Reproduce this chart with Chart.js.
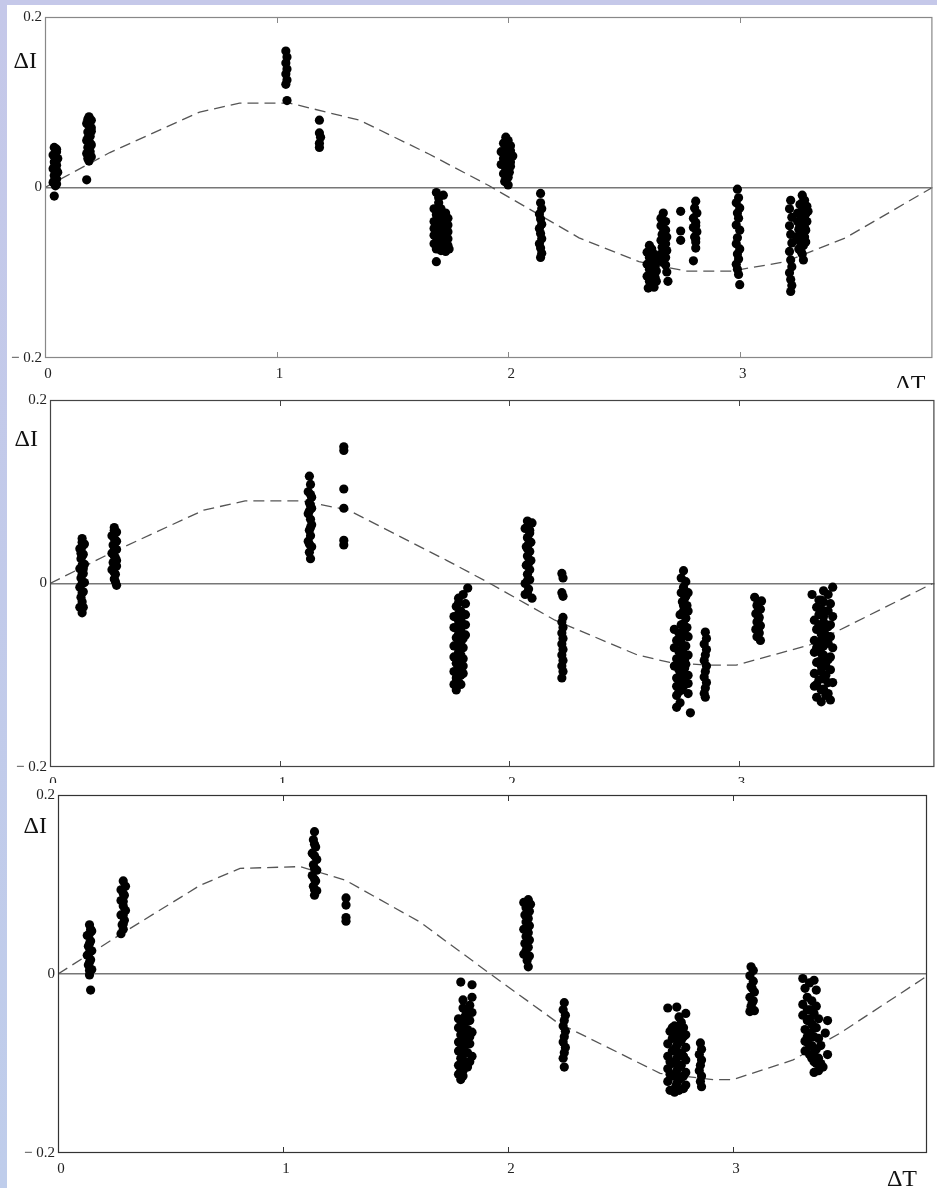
<!DOCTYPE html>
<html>
<head>
<meta charset="utf-8">
<script src="https://cdn.jsdelivr.net/npm/chart.js@4/dist/chart.umd.min.js"></script>
<style>
  html, body { margin: 0; padding: 0; }
  body {
    width: 937px; height: 1188px; overflow: hidden; position: relative;
    background: linear-gradient(#c5c8e9, #bfcdeb);
  }
  canvas { position: absolute; background: #fff; }
  #c1 { left: 7px; top: 5px; }
  #c2 { left: 7px; top: 388px; }
  #c3 { left: 7px; top: 783px; }
</style>
</head>
<body>
<canvas id="c1" width="930" height="383"></canvas>
<canvas id="c2" width="932" height="395"></canvas>
<canvas id="c3" width="930" height="405"></canvas>
<script>
// axis ticks shared by all three panels
const xTickValues = [0, 1, 2, 3];
const yTickValues = [-0.2, 0, 0.2];
const xMax = [3.832, 3.853, 3.862];

// ---- panel 1 ----
const dots1 = [
  [0.04,0.047],[0.05,0.042],[0.035,0.038],[0.055,0.034],[0.04,0.030],[0.05,0.026],[0.035,0.022],[0.055,0.018],[0.04,0.014],[0.05,0.010],[0.035,0.006],[0.045,0.002],[0.04,-0.010],
  [0.05,0.045],[0.045,0.036],[0.05,0.032],[0.045,0.028],[0.04,0.024],[0.05,0.020],[0.045,0.016],[0.04,0.008],[0.05,0.004],
  [0.19,0.083],[0.2,0.079],[0.18,0.075],[0.2,0.07],[0.185,0.065],[0.195,0.06],[0.18,0.055],[0.2,0.05],[0.19,0.045],[0.18,0.04],[0.2,0.036],[0.19,0.031],[0.18,0.009],
  [0.185,0.08],[0.19,0.072],[0.2,0.066],[0.185,0.058],[0.195,0.052],[0.185,0.047],[0.195,0.042],[0.185,0.034],
  [1.04,0.160],[1.045,0.153],[1.04,0.146],[1.045,0.139],[1.04,0.133],[1.045,0.126],[1.04,0.121],[1.045,0.102],
  [1.185,0.079],[1.185,0.064],[1.19,0.059],[1.185,0.052],[1.185,0.047],
  [1.69,-0.006],[1.72,-0.009],[1.70,-0.018],[1.68,-0.025],[1.71,-0.025],[1.69,-0.032],[1.72,-0.034],[1.74,-0.036],[1.68,-0.040],[1.71,-0.042],[1.74,-0.044],[1.69,-0.048],[1.72,-0.050],[1.74,-0.052],[1.68,-0.056],[1.71,-0.058],[1.74,-0.060],[1.69,-0.064],[1.72,-0.066],[1.74,-0.068],[1.69,-0.072],[1.71,-0.074],[1.73,-0.075],[1.69,-0.087],
  [1.70,-0.012],[1.70,-0.028],[1.73,-0.030],[1.70,-0.038],[1.73,-0.040],[1.70,-0.045],[1.73,-0.047],[1.70,-0.054],[1.73,-0.055],[1.70,-0.061],[1.73,-0.062],[1.70,-0.068],[1.72,-0.070],[1.68,-0.066],[1.68,-0.048],[1.745,-0.072],
  [1.99,0.059],[2.0,0.055],[1.98,0.052],[2.01,0.049],[1.99,0.045],[1.97,0.042],[2.0,0.040],[2.02,0.037],[1.98,0.034],[2.0,0.031],[1.97,0.027],[2.01,0.025],[1.99,0.021],[1.98,0.016],[2.0,0.012],[1.985,0.007],[2.0,0.003],
  [1.99,0.05],[2.01,0.043],[1.99,0.036],[1.99,0.028],[2.005,0.018],[1.99,0.010],[2.01,0.030],
  [2.14,-0.007],[2.14,-0.018],[2.145,-0.025],[2.135,-0.031],[2.14,-0.037],[2.145,-0.043],[2.135,-0.048],[2.14,-0.054],[2.145,-0.060],[2.135,-0.066],[2.14,-0.071],[2.145,-0.077],[2.14,-0.082],
  [2.67,-0.030],[2.66,-0.036],[2.68,-0.040],[2.66,-0.045],[2.68,-0.050],[2.665,-0.055],[2.685,-0.058],[2.66,-0.062],[2.68,-0.066],[2.665,-0.070],[2.685,-0.074],[2.66,-0.078],[2.68,-0.082],[2.665,-0.087],[2.68,-0.091],[2.685,-0.099],[2.69,-0.110],
  [2.67,-0.048],[2.67,-0.064],[2.67,-0.080],[2.67,-0.060],[2.675,-0.072],
  [2.61,-0.068],[2.62,-0.072],[2.6,-0.076],[2.63,-0.078],[2.61,-0.082],[2.625,-0.086],[2.6,-0.090],[2.635,-0.092],[2.61,-0.096],[2.625,-0.100],[2.6,-0.104],[2.635,-0.106],[2.61,-0.110],[2.625,-0.114],[2.605,-0.118],[2.63,-0.117],
  [2.615,-0.074],[2.615,-0.088],[2.62,-0.094],[2.615,-0.102],[2.62,-0.108],[2.64,-0.098],[2.64,-0.085],[2.64,-0.110],
  [2.745,-0.028],[2.745,-0.051],[2.745,-0.062],
  [2.81,-0.016],[2.805,-0.024],[2.815,-0.030],[2.80,-0.036],[2.81,-0.041],[2.80,-0.047],[2.815,-0.052],[2.805,-0.058],[2.81,-0.064],[2.81,-0.071],[2.80,-0.086],[2.81,-0.045],[2.81,-0.060],
  [2.99,-0.002],[2.995,-0.012],[2.985,-0.018],[3.0,-0.024],[2.99,-0.030],[2.995,-0.036],[2.985,-0.044],[3.0,-0.050],[2.99,-0.059],[2.985,-0.066],[3.0,-0.072],[2.99,-0.078],[2.995,-0.084],[2.985,-0.090],[2.99,-0.096],[2.995,-0.102],[3.0,-0.114],
  [3.22,-0.015],[3.215,-0.025],[3.225,-0.035],[3.215,-0.045],[3.22,-0.055],[3.225,-0.065],[3.215,-0.075],[3.22,-0.085],[3.225,-0.093],[3.215,-0.100],[3.22,-0.108],[3.225,-0.115],[3.22,-0.122],
  [3.27,-0.009],[3.28,-0.015],[3.26,-0.020],[3.29,-0.022],[3.27,-0.027],[3.25,-0.030],[3.285,-0.031],[3.265,-0.036],[3.29,-0.040],[3.25,-0.040],[3.275,-0.044],[3.255,-0.049],[3.285,-0.050],[3.265,-0.054],[3.245,-0.058],[3.28,-0.058],[3.26,-0.063],[3.275,-0.068],[3.255,-0.072],[3.27,-0.078],[3.275,-0.085],
  [3.27,-0.033],[3.28,-0.036],[3.26,-0.045],[3.28,-0.047],[3.27,-0.051],[3.26,-0.057],[3.27,-0.060],[3.285,-0.064],[3.265,-0.066],[3.265,-0.075],[3.27,-0.018],[3.295,-0.028]
];
const curve1X = [0, 0.28, 0.668, 0.84, 1.056, 1.358, 1.66, 1.918, 2.306, 2.565, 2.767, 2.966, 3.198, 3.457, 3.832];
const curve1Y = [0, 0.041, 0.0885, 0.099, 0.099, 0.079, 0.039, 0.002, -0.059, -0.087, -0.098, -0.098, -0.087, -0.059, 0];

// ---- panel 2 ----
const dots2 = [
  [0.14,0.049],[0.15,0.043],[0.13,0.038],[0.145,0.032],[0.135,0.027],[0.15,0.021],[0.13,0.016],[0.145,0.011],[0.135,0.006],[0.15,0.001],[0.13,-0.004],[0.145,-0.009],[0.135,-0.015],[0.14,-0.020],[0.13,-0.026],[0.14,-0.032],
  [0.14,0.040],[0.14,0.030],[0.14,0.020],[0.14,0.010],[0.14,0.0],[0.14,-0.010],[0.145,-0.026],[0.14,0.045],[0.145,0.016],[0.135,0.033],
  [0.28,0.061],[0.29,0.056],[0.27,0.052],[0.285,0.047],[0.275,0.042],[0.29,0.037],[0.27,0.033],[0.285,0.028],[0.275,0.023],[0.29,0.019],[0.27,0.015],[0.285,0.010],[0.28,0.005],[0.29,-0.002],
  [0.28,0.049],[0.28,0.040],[0.28,0.030],[0.28,0.020],[0.28,0.012],[0.285,0.002],[0.28,0.058],[0.29,0.046],[0.29,0.025],
  [1.13,0.117],[1.135,0.108],[1.125,0.100],[1.14,0.094],[1.13,0.088],[1.14,0.082],[1.125,0.076],[1.135,0.070],[1.14,0.064],[1.13,0.058],[1.135,0.052],[1.125,0.046],[1.14,0.040],[1.13,0.034],[1.135,0.027],
  [1.135,0.097],[1.13,0.079],[1.135,0.061],[1.13,0.043],[1.135,0.085],
  [1.28,0.149],[1.28,0.145],[1.28,0.103],[1.28,0.082],[1.28,0.047],[1.28,0.042],
  [1.82,-0.005],[1.78,-0.016],[1.80,-0.012],[1.81,-0.022],[1.77,-0.025],[1.79,-0.030],[1.81,-0.034],[1.76,-0.036],[1.78,-0.041],[1.80,-0.045],[1.76,-0.048],[1.79,-0.052],[1.81,-0.056],[1.77,-0.059],[1.79,-0.064],[1.76,-0.068],[1.80,-0.070],[1.78,-0.075],[1.76,-0.080],[1.80,-0.082],[1.77,-0.087],[1.79,-0.092],[1.76,-0.096],[1.80,-0.098],[1.77,-0.103],[1.76,-0.110],[1.77,-0.116],
  [1.78,-0.021],[1.78,-0.033],[1.79,-0.040],[1.78,-0.047],[1.78,-0.055],[1.78,-0.063],[1.78,-0.070],[1.79,-0.078],[1.78,-0.083],[1.78,-0.091],[1.79,-0.100],[1.78,-0.108],[1.79,-0.110],[1.80,-0.060],[1.81,-0.045],[1.80,-0.090],
  [2.08,0.068],[2.10,0.066],[2.07,0.060],[2.09,0.055],[2.08,0.050],[2.095,0.045],[2.075,0.040],[2.09,0.035],[2.08,0.030],[2.095,0.025],[2.075,0.020],[2.09,0.015],[2.08,0.010],[2.09,0.004],[2.07,0.000],[2.085,-0.006],[2.07,-0.012],[2.10,-0.016],
  [2.085,0.063],[2.085,0.043],[2.085,0.022],[2.08,0.003],[2.08,-0.010],[2.09,0.058],[2.08,0.038],
  [2.23,0.011],[2.235,0.006],[2.23,-0.010],[2.235,-0.014],[2.235,-0.037],[2.23,-0.042],[2.235,-0.048],[2.23,-0.054],[2.235,-0.060],[2.23,-0.066],[2.235,-0.072],[2.23,-0.078],[2.235,-0.084],[2.23,-0.090],[2.235,-0.096],[2.23,-0.103],
  [2.76,0.014],[2.75,0.006],[2.77,0.002],[2.76,-0.004],[2.75,-0.010],[2.77,-0.014],[2.755,-0.020],[2.775,-0.024],[2.76,-0.030],[2.745,-0.034],[2.77,-0.038],[2.76,-0.044],[2.775,-0.048],
  [2.765,-0.016],[2.765,-0.035],[2.765,-0.050],[2.76,-0.024],[2.75,-0.045],[2.78,-0.030],[2.78,-0.010],
  [2.72,-0.050],[2.74,-0.054],[2.76,-0.056],[2.78,-0.058],[2.73,-0.062],[2.75,-0.065],[2.77,-0.068],[2.72,-0.070],[2.74,-0.074],[2.76,-0.076],[2.78,-0.078],[2.73,-0.082],[2.75,-0.085],[2.77,-0.088],[2.72,-0.090],[2.74,-0.094],[2.76,-0.096],[2.78,-0.100],[2.73,-0.103],[2.75,-0.106],[2.78,-0.109],[2.73,-0.112],[2.75,-0.116],[2.78,-0.120],[2.73,-0.122],[2.745,-0.130],[2.73,-0.135],[2.79,-0.141],
  [2.75,-0.060],[2.76,-0.070],[2.745,-0.080],[2.765,-0.083],[2.745,-0.090],[2.765,-0.092],[2.745,-0.100],[2.765,-0.103],[2.76,-0.112],[2.74,-0.118],
  [2.855,-0.053],[2.86,-0.060],[2.85,-0.066],[2.86,-0.072],[2.855,-0.078],[2.85,-0.084],[2.86,-0.090],[2.855,-0.096],[2.85,-0.102],[2.86,-0.108],[2.855,-0.114],[2.85,-0.120],[2.855,-0.124],
  [3.07,-0.015],[3.10,-0.019],[3.08,-0.024],[3.095,-0.028],[3.075,-0.033],[3.09,-0.037],[3.08,-0.042],[3.095,-0.046],[3.075,-0.050],[3.09,-0.054],[3.08,-0.058],[3.095,-0.062],
  [3.085,-0.020],[3.085,-0.030],[3.085,-0.040],[3.085,-0.050],
  [3.41,-0.004],[3.32,-0.012],[3.39,-0.012],[3.36,-0.018],[3.40,-0.022],[3.34,-0.026],[3.38,-0.030],[3.35,-0.034],[3.41,-0.036],[3.33,-0.040],[3.37,-0.042],[3.39,-0.047],[3.34,-0.050],[3.36,-0.055],[3.40,-0.058],[3.33,-0.062],[3.38,-0.064],[3.35,-0.069],[3.41,-0.070],[3.33,-0.075],[3.37,-0.078],[3.39,-0.083],[3.34,-0.086],[3.36,-0.090],[3.40,-0.094],[3.33,-0.098],[3.38,-0.100],[3.35,-0.105],[3.41,-0.108],[3.33,-0.112],[3.37,-0.115],[3.39,-0.120],[3.34,-0.124],[3.36,-0.129],[3.40,-0.127],
  [3.37,-0.008],[3.37,-0.020],[3.36,-0.028],[3.37,-0.036],[3.36,-0.046],[3.37,-0.052],[3.38,-0.056],[3.36,-0.062],[3.37,-0.068],[3.36,-0.076],[3.37,-0.084],[3.38,-0.090],[3.36,-0.096],[3.37,-0.104],[3.36,-0.116],[3.38,-0.122],[3.35,-0.018],[3.35,-0.045],[3.35,-0.085],[3.39,-0.030],[3.39,-0.065],[3.39,-0.108],[3.34,-0.070],[3.34,-0.110],[3.40,-0.045],[3.40,-0.080]
];
const curve2X = [0, 0.28, 0.67, 0.85, 1.10, 1.30, 1.73, 1.91, 2.20, 2.56, 2.70, 2.87, 2.99, 3.31, 3.845];
const curve2Y = [0, 0.035, 0.08, 0.09, 0.09, 0.08, 0.025, 0.001, -0.040, -0.078, -0.086, -0.089, -0.089, -0.067, 0];

// ---- panel 3 ----
const dots3 = [
  [0.14,0.055],[0.15,0.048],[0.13,0.043],[0.145,0.037],[0.135,0.031],[0.15,0.026],[0.13,0.021],[0.145,0.016],[0.135,0.010],[0.15,0.005],[0.14,-0.001],[0.145,-0.018],
  [0.14,0.045],[0.14,0.034],[0.14,0.024],[0.14,0.013],[0.14,0.004],[0.145,0.050],
  [0.29,0.104],[0.30,0.098],[0.28,0.094],[0.295,0.088],[0.28,0.082],[0.29,0.076],[0.3,0.071],[0.28,0.066],[0.295,0.060],[0.285,0.055],[0.29,0.050],[0.28,0.045],
  [0.29,0.090],[0.29,0.081],[0.29,0.066],[0.29,0.056],
  [1.14,0.159],[1.135,0.150],[1.145,0.142],[1.13,0.135],[1.15,0.128],[1.135,0.122],[1.15,0.116],[1.13,0.110],[1.145,0.104],[1.135,0.098],[1.15,0.093],[1.14,0.088],
  [1.14,0.145],[1.14,0.132],[1.14,0.118],[1.14,0.106],[1.14,0.094],
  [1.28,0.085],[1.28,0.077],[1.28,0.063],[1.28,0.059],
  [1.79,-0.009],[1.84,-0.012],[1.80,-0.029],[1.84,-0.026],[1.83,-0.035],[1.80,-0.038],[1.84,-0.043],[1.81,-0.047],[1.78,-0.050],[1.83,-0.052],[1.80,-0.056],[1.78,-0.060],[1.82,-0.062],[1.84,-0.065],[1.79,-0.068],[1.81,-0.072],[1.78,-0.076],[1.83,-0.078],[1.80,-0.082],[1.78,-0.086],[1.82,-0.088],[1.84,-0.092],[1.79,-0.094],[1.81,-0.098],[1.78,-0.102],[1.82,-0.104],[1.80,-0.108],[1.78,-0.112],[1.79,-0.118],
  [1.81,-0.040],[1.81,-0.054],[1.81,-0.064],[1.80,-0.070],[1.81,-0.080],[1.80,-0.090],[1.81,-0.102],[1.80,-0.114],[1.82,-0.045],[1.79,-0.058],[1.83,-0.070],[1.79,-0.084],[1.83,-0.098],[1.79,-0.108],[1.82,-0.075],
  [2.09,0.083],[2.07,0.080],[2.10,0.078],[2.08,0.074],[2.095,0.070],[2.075,0.066],[2.09,0.062],[2.08,0.058],[2.095,0.054],[2.07,0.050],[2.09,0.046],[2.08,0.042],[2.095,0.038],[2.075,0.034],[2.09,0.030],[2.08,0.026],[2.07,0.022],[2.095,0.020],[2.085,0.015],[2.09,0.008],
  [2.085,0.078],[2.085,0.064],[2.085,0.050],[2.085,0.036],[2.085,0.030],
  [2.25,-0.032],[2.245,-0.040],[2.255,-0.046],[2.25,-0.052],[2.245,-0.058],[2.255,-0.064],[2.25,-0.070],[2.245,-0.076],[2.255,-0.082],[2.25,-0.088],[2.245,-0.094],[2.25,-0.104],
  [2.71,-0.038],[2.75,-0.037],[2.79,-0.044],[2.76,-0.048],[2.77,-0.054],[2.74,-0.058],[2.78,-0.060],[2.72,-0.064],[2.75,-0.066],[2.79,-0.068],[2.73,-0.072],[2.77,-0.074],[2.71,-0.078],[2.75,-0.080],[2.79,-0.082],[2.73,-0.086],[2.77,-0.088],[2.71,-0.092],[2.75,-0.094],[2.79,-0.096],[2.73,-0.100],[2.77,-0.102],[2.71,-0.106],[2.75,-0.108],[2.79,-0.110],[2.73,-0.114],[2.77,-0.116],[2.71,-0.120],[2.75,-0.122],[2.79,-0.124],[2.72,-0.130],[2.74,-0.132],[2.78,-0.128],
  [2.76,-0.062],[2.74,-0.070],[2.76,-0.076],[2.74,-0.084],[2.76,-0.090],[2.74,-0.098],[2.76,-0.104],[2.74,-0.112],[2.76,-0.118],[2.745,-0.126],[2.78,-0.070],[2.72,-0.098],[2.78,-0.092],[2.72,-0.112],[2.78,-0.114],[2.76,-0.130],[2.73,-0.060],[2.77,-0.064],
  [2.855,-0.077],[2.86,-0.084],[2.85,-0.090],[2.86,-0.096],[2.855,-0.102],[2.85,-0.108],[2.86,-0.114],[2.855,-0.120],[2.86,-0.126],
  [3.08,0.008],[3.09,0.004],[3.075,-0.002],[3.09,-0.008],[3.08,-0.014],[3.095,-0.020],[3.075,-0.026],[3.09,-0.030],[3.08,-0.036],[3.075,-0.042],[3.095,-0.041],
  [3.085,-0.016],[3.085,-0.032],
  [3.31,-0.005],[3.36,-0.007],[3.37,-0.018],[3.32,-0.016],[3.33,-0.026],[3.35,-0.030],[3.31,-0.034],[3.34,-0.040],[3.36,-0.044],[3.31,-0.046],[3.33,-0.052],[3.35,-0.056],[3.37,-0.060],[3.32,-0.062],[3.34,-0.066],[3.36,-0.070],[3.38,-0.072],[3.33,-0.076],[3.35,-0.080],[3.37,-0.084],[3.32,-0.086],[3.34,-0.090],[3.38,-0.094],[3.36,-0.098],[3.39,-0.100],[3.38,-0.108],[3.36,-0.110],[3.42,-0.052],[3.41,-0.066],[3.42,-0.090],
  [3.35,-0.040],[3.34,-0.050],[3.36,-0.060],[3.35,-0.070],[3.34,-0.080],[3.36,-0.088],[3.35,-0.094],[3.37,-0.100],[3.33,-0.070],[3.37,-0.036],[3.39,-0.080],[3.40,-0.104],[3.33,-0.040],[3.32,-0.075],[3.34,-0.010],[3.38,-0.050]
];
const curve3X = [0, 0.276, 0.631, 0.809, 1.076, 1.276, 1.609, 1.911, 2.218, 2.676, 2.911, 3.0, 3.267, 3.476, 3.876];
const curve3Y = [0, 0.044, 0.099, 0.118, 0.12, 0.105, 0.058, 0.002, -0.054, -0.111, -0.118, -0.118, -0.096, -0.066, 0];

const SERIF = '"Liberation Serif", "DejaVu Serif", serif';

// frame, inward ticks and the two axis symbols
const framePlugin = {
  id: 'frame',
  afterDraw(chart, args, opts) {
    const { ctx, chartArea: a, scales } = chart;
    ctx.save();
    ctx.strokeStyle = opts.frameColor;
    ctx.lineWidth = 1.2;
    ctx.strokeRect(a.left + 0.5, a.top + 0.5, a.right - a.left - 1, a.bottom - a.top - 1);
    ctx.lineWidth = 1;
    xTickValues.forEach(v => {
      const px = Math.round(scales.x.getPixelForValue(v)) + 0.5;
      ctx.beginPath();
      ctx.moveTo(px, a.bottom); ctx.lineTo(px, a.bottom - 6);
      ctx.moveTo(px, a.top); ctx.lineTo(px, a.top + 6);
      ctx.stroke();
    });
    ctx.fillStyle = '#111';
    ctx.font = '24px ' + SERIF;
    ctx.textAlign = 'right';
    ctx.textBaseline = 'alphabetic';
    ctx.fillText('\u0394I', a.left - opts.yLabelGap, a.top + opts.yLabelDrop);
    ctx.fillText('\u0394T', a.right - opts.xLabelGap, a.bottom + 33);
    ctx.restore();
  }
};

function makePanel(id, dots, cx, cy, idx, box) {
  const canvas = document.getElementById(id);
  return new Chart(canvas, {
    type: 'scatter',
    data: {
      datasets: [{
        data: dots.map(p => ({ x: p[0], y: p[1] })),
        backgroundColor: '#000',
        borderWidth: 0,
        pointRadius: 4.6
      }, {
        data: cx.map((x, i) => ({ x: x, y: cy[i] })),
        showLine: true,
        pointRadius: 0,
        borderColor: '#555',
        borderWidth: 1.3,
        borderDash: [11, 6],
        tension: 0
      }]
    },
    options: {
      responsive: false,
      devicePixelRatio: 1,
      animation: false,
      events: [],
      layout: { padding: { top: box.top, right: box.right, left: 0, bottom: 0 } },
      plugins: {
        legend: { display: false },
        tooltip: { enabled: false },
        frame: box
      },
      scales: {
        x: {
          type: 'linear', min: 0, max: xMax[idx],
          afterBuildTicks: s => { s.ticks = xTickValues.map(v => ({ value: v })); },
          afterFit: s => { s.height = box.xh; },
          grid: { display: false, drawTicks: false },
          border: { display: false },
          ticks: { font: { family: SERIF, size: 15 }, color: '#222', padding: 7, labelOffset: 3, maxRotation: 0,
                   callback: v => String(v) }
        },
        y: {
          type: 'linear', min: -0.2, max: 0.2,
          afterBuildTicks: s => { s.ticks = yTickValues.map(v => ({ value: v })); },
          afterFit: s => { s.width = box.yw; },
          grid: {
            drawTicks: false, lineWidth: 1.5,
            color: c => (c.tick && c.tick.value === 0) ? '#777' : 'rgba(0,0,0,0)'
          },
          border: { display: false },
          ticks: { font: { family: SERIF, size: 15 }, color: '#222', padding: 3,
                   callback: v => v < 0 ? '\u2212 ' + Math.abs(v) : String(v) }
        }
      }
    },
    plugins: [framePlugin]
  });
}

makePanel('c1', dots1, curve1X, curve1Y, 0,
  { top: 5, right: 3, yw: 38, xh: 30, frameColor: '#888', yLabelGap: 8, yLabelDrop: 51, xLabelGap: 7 });
makePanel('c2', dots2, curve2X, curve2Y, 1,
  { top: 11, right: 0, yw: 43, xh: 16, frameColor: '#444', yLabelGap: 12, yLabelDrop: 46, xLabelGap: 12 });
makePanel('c3', dots3, curve3X, curve3Y, 2,
  { top: 12, right: 10, yw: 51, xh: 35, frameColor: '#333', yLabelGap: 11, yLabelDrop: 38, xLabelGap: 10 });
</script>
</body>
</html>
